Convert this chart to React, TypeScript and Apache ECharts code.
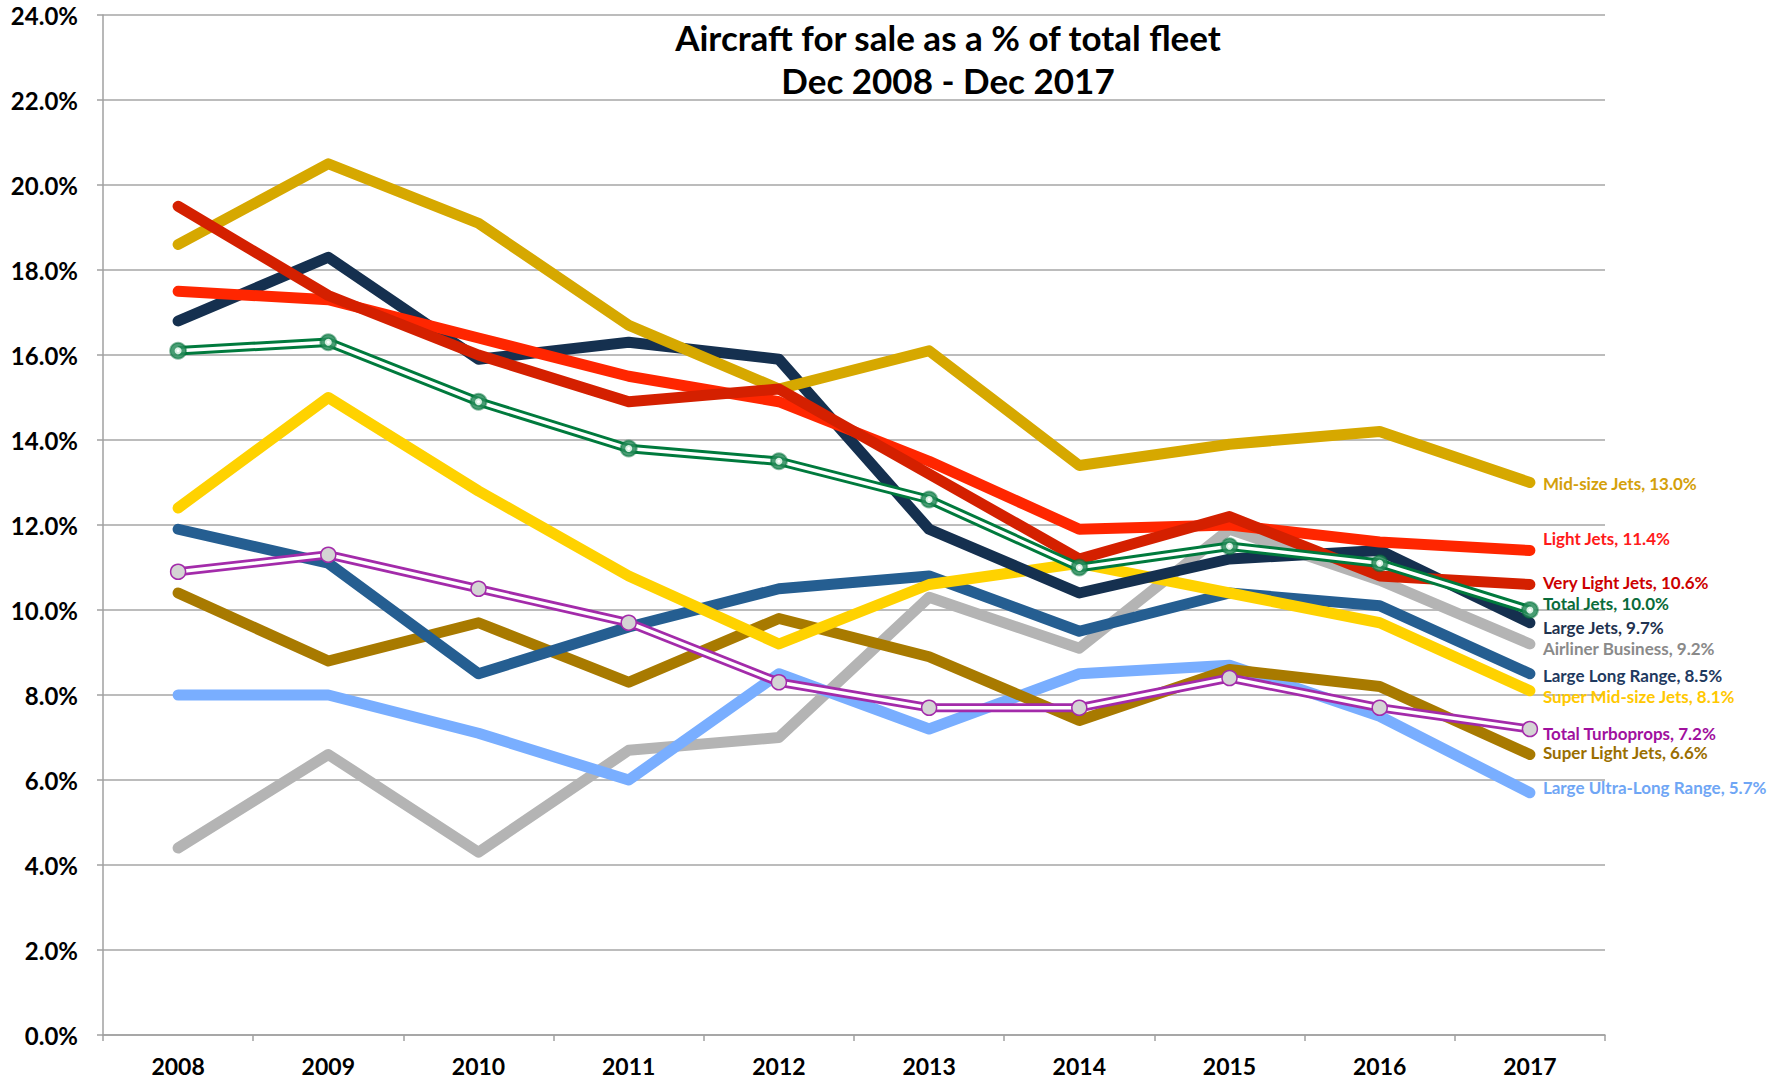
import React, { useEffect, useRef } from "react";
import * as echarts from "echarts";

const years = ["2008", "2009", "2010", "2011", "2012", "2013", "2014", "2015", "2016", "2017"];
const yTicks = [0, 2, 4, 6, 8, 10, 12, 14, 16, 18, 20, 22, 24];

const midSizeJets = [18.6, 20.5, 19.1, 16.7, 15.2, 16.1, 13.4, 13.9, 14.2, 13.0];
const lightJets = [17.5, 17.3, 16.4, 15.5, 14.9, 13.5, 11.9, 12.0, 11.6, 11.4];
const veryLightJets = [19.5, 17.4, 16.0, 14.9, 15.2, 13.2, 11.2, 12.2, 10.8, 10.6];
const totalJets = [16.1, 16.3, 14.9, 13.8, 13.5, 12.6, 11.0, 11.5, 11.1, 10.0];
const largeJets = [16.8, 18.3, 15.9, 16.3, 15.9, 11.9, 10.4, 11.2, 11.4, 9.7];
const airlinerBusiness = [4.4, 6.6, 4.3, 6.7, 7.0, 10.3, 9.1, 11.9, 10.7, 9.2];
const largeLongRange = [11.9, 11.1, 8.5, 9.6, 10.5, 10.8, 9.5, 10.4, 10.1, 8.5];
const superMidSizeJets = [12.4, 15.0, 12.8, 10.8, 9.2, 10.6, 11.1, 10.4, 9.7, 8.1];
const totalTurboprops = [10.9, 11.3, 10.5, 9.7, 8.3, 7.7, 7.7, 8.4, 7.7, 7.2];
const superLightJets = [10.4, 8.8, 9.7, 8.3, 9.8, 8.9, 7.4, 8.6, 8.2, 6.6];
const largeUltraLongRange = [8.0, 8.0, 7.1, 6.0, 8.5, 7.2, 8.5, 8.7, 7.5, 5.7];

const FONT = "Lato, 'Open Sans', sans-serif";

function withEndLabel(values: number[], name: string, color: string, labelColor: string, dy: number) {
  return values.map((v, i) => {
    if (i !== values.length - 1) return v;
    return {
      value: v,
      symbol: "circle",
      symbolSize: 2,
      itemStyle: { color },
      label: {
        show: true,
        position: "right",
        distance: 12,
        offset: [0, dy],
        formatter: `${name}, ${v.toFixed(1)}%`,
        color: labelColor,
        fontFamily: FONT,
        fontWeight: "bold",
        fontSize: 17,
      },
    };
  });
}

function thickLine(name: string, values: number[], color: string, labelColor: string, dy: number) {
  return {
    name,
    type: "line",
    data: withEndLabel(values, name, color, labelColor, dy),
    symbol: "none",
    showSymbol: true,
    lineStyle: { color, width: 11, cap: "round", join: "round" },
    itemStyle: { color },
    emphasis: { disabled: true },
    silent: true,
  };
}

export default function App() {
  const ref = useRef<HTMLDivElement>(null);

  useEffect(() => {
    if (!ref.current) return;
    const chart = echarts.init(ref.current, undefined, { renderer: "svg" });

    const series: any[] = [
      thickLine("Airliner Business", airlinerBusiness, "#B4B4B4", "#8A8A8A", 4),
      thickLine("Large Ultra-Long Range", largeUltraLongRange, "#79AEFF", "#6FA6F5", -5),
      thickLine("Super Light Jets", superLightJets, "#A87A00", "#9A6E00", -2),
      thickLine("Large Long Range", largeLongRange, "#255E91", "#1F3A5F", 2),
      thickLine("Super Mid-size Jets", superMidSizeJets, "#FFD200", "#FFC800", 6),
      thickLine("Large Jets", largeJets, "#15304F", "#1F3350", 5),
      thickLine("Mid-size Jets", midSizeJets, "#D6A800", "#D4A00A", 1),
      thickLine("Light Jets", lightJets, "#FF2600", "#FF1A1A", -12),
      thickLine("Very Light Jets", veryLightJets, "#D42000", "#CC0000", -2),
      // Total Turboprops: double line
      {
        name: "Total Turboprops",
        type: "line",
        data: withEndLabel(totalTurboprops, "Total Turboprops", "#A32BAA", "#A0109E", 4),
        symbol: "none",
        lineStyle: { color: "#A32BAA", width: 9, join: "round" },
        itemStyle: { color: "#A32BAA" },
        silent: true,
      },
      {
        name: "Total Turboprops inner",
        type: "line",
        data: totalTurboprops,
        symbol: "circle",
        symbolSize: 15,
        showSymbol: true,
        lineStyle: { color: "#FFFFFF", width: 3.5, join: "round" },
        itemStyle: { color: "#D4D4D4", borderColor: "#A32BAA", borderWidth: 1.5 },
        silent: true,
      },
      // Total Jets: double line
      {
        name: "Total Jets",
        type: "line",
        data: withEndLabel(totalJets, "Total Jets", "#007A3D", "#0A6B3A", -7),
        symbol: "none",
        lineStyle: { color: "#007A3D", width: 9.5, join: "round" },
        itemStyle: { color: "#007A3D" },
        silent: true,
      },
      {
        name: "Total Jets inner",
        type: "line",
        data: totalJets,
        symbol: "circle",
        symbolSize: 16,
        showSymbol: true,
        lineStyle: { color: "#FFFFFF", width: 3.5, join: "round" },
        itemStyle: { color: "rgba(40,140,90,0.85)", borderColor: "rgba(0,110,55,0.45)", borderWidth: 2 },
        silent: true,
      },
      {
        name: "Total Jets center",
        type: "line",
        data: totalJets,
        symbol: "emptyCircle",
        symbolSize: 5,
        showSymbol: true,
        lineStyle: { opacity: 0 },
        itemStyle: { color: "#D8EFE2", borderWidth: 1.2 },
        silent: true,
      },
    ];

    chart.setOption({
      animation: false,
      backgroundColor: "#FFFFFF",
      grid: { left: 103, right: 183, top: 15, bottom: 48, containLabel: false },
      xAxis: {
        type: "category",
        data: years,
        boundaryGap: true,
        axisLine: { show: true, lineStyle: { color: "#A0A0A0", width: 1.5 } },
        axisTick: { show: true, alignWithLabel: false, length: 6, lineStyle: { color: "#A0A0A0", width: 1.5 } },
        axisLabel: { color: "#000", fontFamily: FONT, fontWeight: "bold", fontSize: 23, margin: 19 },
        splitLine: { show: false },
      },
      yAxis: {
        type: "value",
        min: yTicks[0],
        max: yTicks[yTicks.length - 1],
        interval: 2,
        axisLine: { show: true, lineStyle: { color: "#A0A0A0", width: 1.5 } },
        axisTick: { show: true, length: 6, lineStyle: { color: "#A0A0A0", width: 1.5 } },
        axisLabel: {
          color: "#000",
          fontFamily: FONT,
          fontWeight: "bold",
          fontSize: 24,
          margin: 25,
          formatter: (v: number) => `${v.toFixed(1)}%`,
        },
        splitLine: { show: true, lineStyle: { color: "#A6A6A6", width: 1.5 } },
      },
      graphic: [
        {
          type: "text",
          x: 948,
          y: 37,
          z: 100,
          style: {
            text: "Aircraft for sale as a % of total fleet",
            fill: "#000",
            font: `bold 35px ${FONT}`,
            align: "center",
            verticalAlign: "middle",
            textAlign: "center",
            textVerticalAlign: "middle",
          },
        },
        {
          type: "text",
          x: 948,
          y: 80,
          z: 100,
          style: {
            text: "Dec 2008 - Dec 2017",
            fill: "#000",
            font: `bold 35px ${FONT}`,
            align: "center",
            verticalAlign: "middle",
            textAlign: "center",
            textVerticalAlign: "middle",
          },
        },
      ],
      series,
    });

    return () => chart.dispose();
  }, []);

  return (
    <div
      ref={ref}
      style={{ position: "fixed", left: 0, top: 0, width: 1788, height: 1083, background: "#fff" }}
    />
  );
}
